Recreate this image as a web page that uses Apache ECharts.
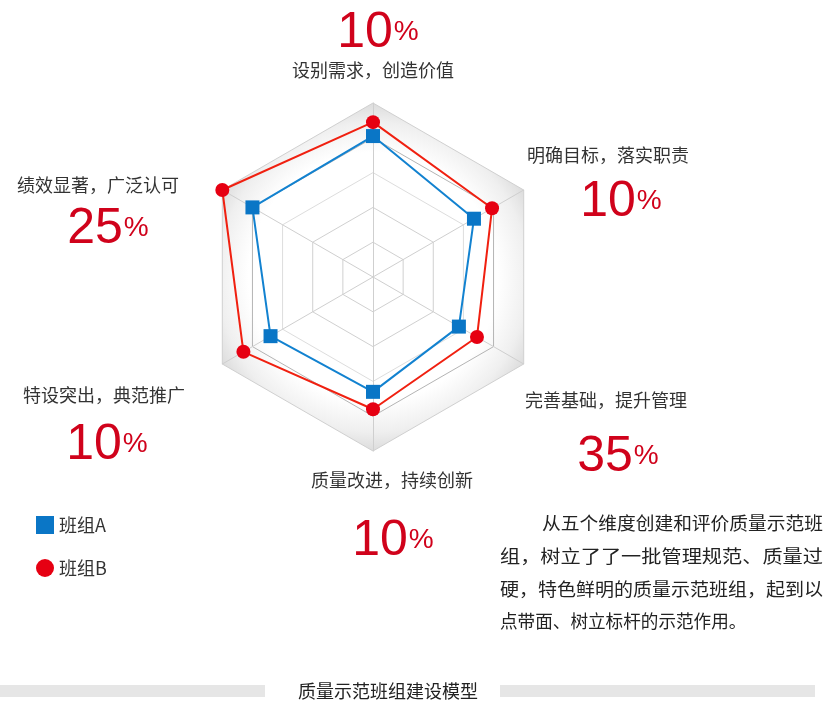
<!DOCTYPE html>
<html><head><meta charset="utf-8">
<script src="https://cdn.jsdelivr.net/npm/echarts@6/dist/echarts.min.js"></script>
<style>html,body{margin:0;padding:0;background:#fff}#c{width:833px;height:702px}</style>
</head><body><div id="c"></div>
<script>
// indicator order: top, then counter-clockwise
const indicators = ['设别需求，创造价值','绩效显著，广泛认可','特设突出，典范推广','质量改进，持续创新','完善基础，提升管理','明确目标，落实职责'];
const percents = ['10','25','10','10','35','10'];
const seriesNames = ['班组A','班组B'];
const valuesA = [81, 80, 68, 66, 57, 67];
const valuesB = [89, 100, 86, 76, 69, 79];
const paragraph = ['从五个维度创建和评价质量示范班','组，树立了了一批管理规范、质量过','硬，特色鲜明的质量示范班组，起到以','点带面、树立标杆的示范作用。'];
const footTitle = '质量示范班组建设模型';

const CJK = '"Noto Sans CJK SC","Microsoft YaHei",sans-serif';
const NUM = '"Liberation Sans",Arial,sans-serif';
const RED = '#d0021b';

// label placement (name position, percent position) per indicator
const labelPos = [
  {n:[373,70], p:[377,33]},
  {n:[98,185], p:[107,229]},
  {n:[104,395], p:[106,445]},
  {n:[392,480], p:[392,541]},
  {n:[606,400], p:[617,457]},
  {n:[608,155], p:[620,202]}
];

const graphics = [];
indicators.forEach((name,i)=>{
  graphics.push({type:'text', x:labelPos[i].n[0], y:labelPos[i].n[1], style:{text:name, font:'18px '+CJK, fill:'#333', textAlign:'center', textVerticalAlign:'middle'}});
  const digW = percents[i].length * 0.556 * 50;
  const total = digW + 24;
  const x0 = labelPos[i].p[0] - total/2;
  graphics.push({type:'text', x:x0, y:labelPos[i].p[1], style:{text:percents[i], font:'50px '+NUM, fill:RED, textAlign:'left', textVerticalAlign:'middle'}});
  graphics.push({type:'text', x:x0 + digW + 1, y:labelPos[i].p[1] - 1, style:{text:'%', font:'28px '+NUM, fill:RED, textAlign:'left', textVerticalAlign:'middle'}});
});
const paraY = [523,556,589,621];
paragraph.forEach((line,i)=>{
  const x0 = i===0 ? 542 : 500;
  const x1 = i===3 ? 500 + line.length*17.6 : 823;
  const step = (x1 - x0) / line.length;
  graphics.push({type:'text', x:x0, y:paraY[i], style:{text:line, font:'18px '+CJK, fill:'#222', textVerticalAlign:'middle', textAlign:'left'}, scaleX: step/18});
});
graphics.push({type:'rect', shape:{x:0,y:685,width:265,height:12}, style:{fill:'#e6e6e6'}});
graphics.push({type:'rect', shape:{x:500,y:685,width:315,height:12}, style:{fill:'#e6e6e6'}});
graphics.push({type:'text', x:388, y:691, style:{text:footTitle, font:'18px '+CJK, fill:'#222', textAlign:'center', textVerticalAlign:'middle'}});

const grad = {type:'radial', x:373, y:277, r:178, global:true, colorStops:[{offset:0,color:'#ffffff'},{offset:0.7,color:'#ffffff'},{offset:0.87,color:'#efefef'},{offset:1,color:'#d8d8d8'}]};

const chart = echarts.init(document.getElementById('c'));
chart.setOption({
  backgroundColor:'#fff',
  animation:false,
  legend:{orient:'vertical', left:31, top:511, itemWidth:18, itemHeight:18, itemGap:25,
    textStyle:{fontFamily:CJK, fontSize:18, color:'#333'}, data:[{name:seriesNames[0], icon:'rect'},{name:seriesNames[1], icon:'circle'}]},
  radar:{
    center:[373,277], radius:174, startAngle:90, shape:'polygon', splitNumber:5,
    indicator: indicators.map(n=>({name:n, max:100})),
    axisName:{show:false},
    axisLine:{lineStyle:{color:'#cfcfcf', width:1}},
    splitLine:{lineStyle:{color:['#d0d0d0','#d0d0d0','#d0d0d0','#dddddd','#b4b4b4'], width:1}},
    splitArea:{show:true, areaStyle:{color:[grad]}}
  },
  series:[{
    type:'radar',
    data:[
      {name:seriesNames[0], value:valuesA, symbol:'rect', symbolSize:14, itemStyle:{color:'#0a76c6'}, lineStyle:{color:'#1282d0', width:2}},
      {name:seriesNames[1], value:valuesB, symbol:'circle', symbolSize:14, itemStyle:{color:'#e60012'}, lineStyle:{color:'#f02010', width:2}}
    ]
  }],
  graphic: graphics
});
</script></body></html>
